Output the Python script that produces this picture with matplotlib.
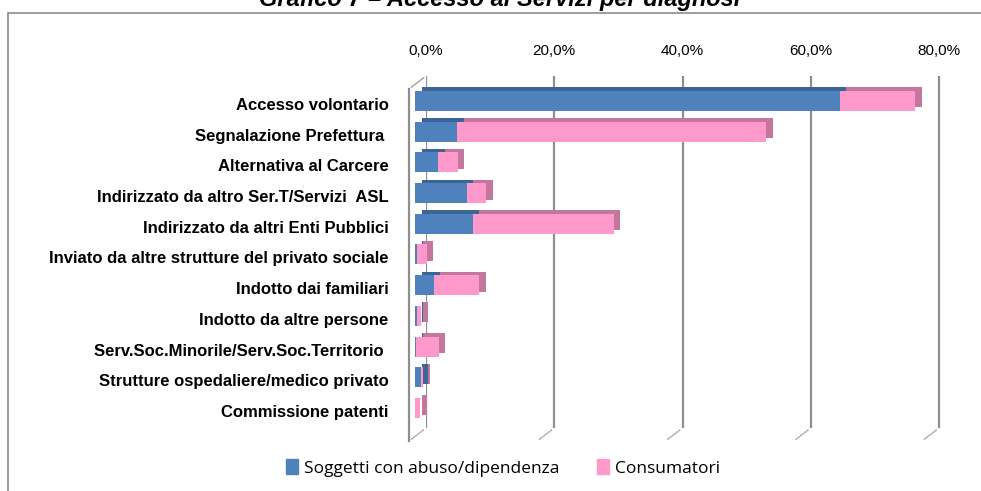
import matplotlib
matplotlib.use("Agg")
import matplotlib.pyplot as plt
import matplotlib.transforms as mtransforms
from matplotlib.patches import Patch, Rectangle

categories = ["Accesso volontario", "Segnalazione Prefettura ", "Alternativa al Carcere",
              "Indirizzato da altro Ser.T/Servizi  ASL", "Indirizzato da altri Enti Pubblici",
              "Inviato da altre strutture del privato sociale", "Indotto dai familiari",
              "Indotto da altre persone", "Serv.Soc.Minorile/Serv.Soc.Territorio ",
              "Strutture ospedaliere/medico privato", "Commissione patenti"]
abuso = [66.2, 6.6, 3.6, 8.1, 9.0, 0.3, 2.9, 0.3, 0.2, 1.0, 0.0]
consumatori = [11.8, 48.2, 3.1, 3.0, 22.0, 1.5, 7.1, 0.7, 3.5, 0.3, 0.8]
ticks = [0, 20, 40, 60, 80]
tick_labels = ["0,0%", "20,0%", "40,0%", "60,0%", "80,0%"]
series_names = ["Soggetti con abuso/dipendenza", "Consumatori"]

W, H = 981, 491
fig = plt.figure(figsize=(W / 100, H / 100), dpi=100)

# outer frame (cut at right and bottom like the original)
fig.patches.append(Rectangle((8 / W, -0.1), 1.2, 1 - 13 / H + 0.1, transform=fig.transFigure,
                             fill=False, edgecolor="#8c8c8c", lw=1.2))

fig.text(500 / W, 1 - 6 / H, "Grafico 7 \u2013 Accesso ai Servizi per diagnosi", ha="center",
         va="baseline", fontsize=17, fontweight="bold", style="italic", family="Liberation Sans")

px_per = 513 / 80
ax = fig.add_axes([426 / W, 1 - 428 / H, px_per * 81 / W, (428 - 76) / H])
ax.set_xlim(0, 81)
ax.set_ylim(10.65, -0.81)
for s in ax.spines.values():
    s.set_visible(False)

ax.xaxis.tick_top()
ax.set_xticks(ticks)
ax.set_xticklabels(tick_labels, fontsize=11, family="Liberation Sans")
ax.tick_params(axis="x", length=0, pad=13)
ax.set_yticks(range(len(categories)))
ax.set_yticklabels(categories, fontsize=12, fontweight="bold", family="Liberation Sans")
ax.tick_params(axis="y", length=0, pad=27)
for lab in ax.get_yticklabels():
    lab.set_transform(lab.get_transform() + mtransforms.ScaledTranslation(0, -0.03, fig.dpi_scale_trans))

ax.grid(axis="x", color="#8f8f8f", lw=1.6)
ax.set_axisbelow(True)

# 3D wall edges
wall = mtransforms.blended_transform_factory(ax.transData, ax.transAxes) + \
    mtransforms.ScaledTranslation(-0.17, -0.13, fig.dpi_scale_trans)
ax.plot([0, 0], [0, 1], color="#8f8f8f", lw=1.6, transform=wall, clip_on=False)
ax.annotate("", xy=(0, 1), xycoords=("data", "axes fraction"), xytext=(-17 * 0.72, -13 * 0.72),
            textcoords="offset points", arrowprops=dict(arrowstyle="-", color="#a0a0a0", lw=1))
for t in ticks:
    ax.annotate("", xy=(t, 0), xycoords=("data", "axes fraction"), xytext=(-17 * 0.72, -13 * 0.72),
                textcoords="offset points",
                arrowprops=dict(arrowstyle="-", color="#a0a0a0", lw=1, linestyle=(0, (1, 1))))

# bars: back box (darker) then front face
front = ax.transData + mtransforms.ScaledTranslation(-0.11, 0, fig.dpi_scale_trans)
back = ax.transData + mtransforms.ScaledTranslation(-0.045, 0.035, fig.dpi_scale_trans)
y = range(len(categories))
h = 0.65
ax.barh(y, abuso, height=h, color="#3a6595", transform=back, clip_on=False, zorder=2)
ax.barh(y, consumatori, left=abuso, height=h, color="#c4779d", transform=back, clip_on=False, zorder=2)
ax.barh(y, abuso, height=h, color="#4f81bd", transform=front, clip_on=False, zorder=3)
ax.barh(y, consumatori, left=abuso, height=h, color="#ff99cc", transform=front, clip_on=False, zorder=3)

handles = [Patch(color="#4f81bd"), Patch(color="#ff99cc")]
fig.legend(handles, series_names, loc="center", bbox_to_anchor=(503 / W, 1 - 468 / H), ncol=2,
           frameon=False, prop={"family": "Open Sans", "size": 12.5}, handlelength=0.7,
           handleheight=0.9, handletextpad=0.3, columnspacing=2.2)

fig.savefig("out.png", dpi=100)
